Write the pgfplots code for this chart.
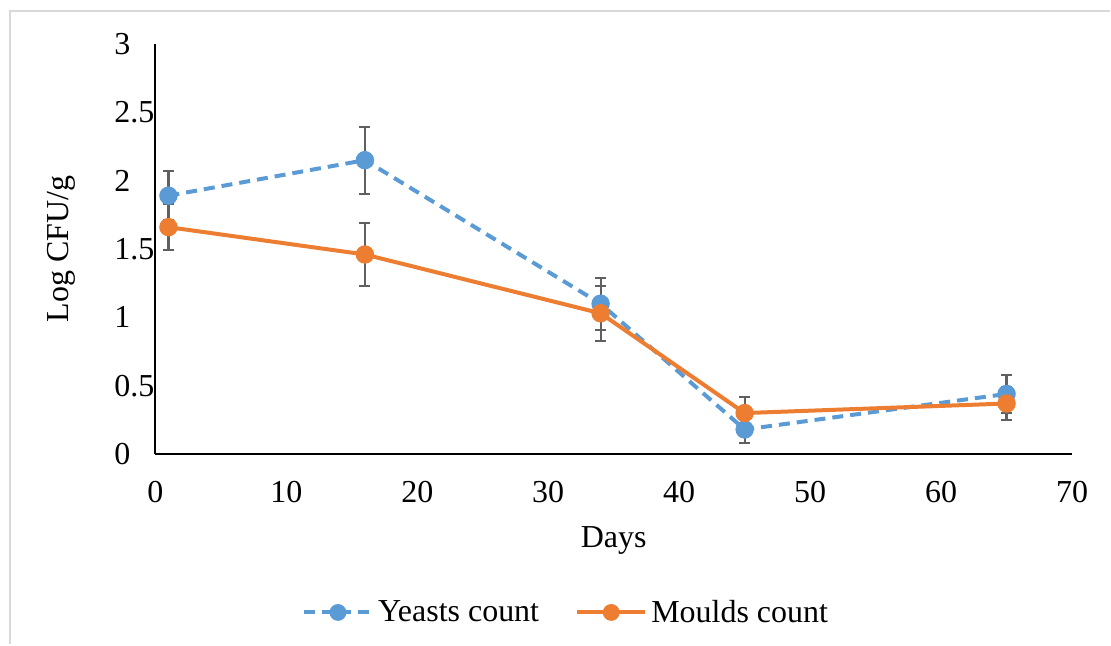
\documentclass[border=0pt]{standalone}
\usepackage{fontspec}
\setmainfont{Liberation Serif}
\usepackage{pgfplots}
\pgfplotsset{compat=1.18}

\definecolor{yeastblue}{HTML}{5B9BD5}
\definecolor{mouldorange}{HTML}{ED7D31}
\definecolor{errgray}{HTML}{606060}
\definecolor{framegray}{HTML}{D9D9D9}

\begin{document}
\begin{tikzpicture}
\begin{axis}[
  scale only axis,
  width=458.75pt, height=205.25pt,
  xmin=0, xmax=70, ymin=0, ymax=3,
  xtick={0,10,...,70}, ytick={0,0.5,...,3},
  axis lines=left, axis line style={-, line width=1pt, black},
  major tick length=0pt,
  font=\fontsize{16}{19}\selectfont,
  /pgf/number format/assume math mode=true,
  yticklabel style={/pgf/number format/fixed, anchor=west, xshift=-24pt},
  xticklabel style={yshift=-10pt},
  xlabel={Days}, ylabel={Log CFU/g},
  xlabel style={at={(rel axis cs:0.5,0)}, anchor=center, yshift=-43pt},
  ylabel style={at={(rel axis cs:0,0.5)}, anchor=center, yshift=47pt},
  clip=false,
  legend columns=2,
  legend style={at={(rel axis cs:0.449,0)}, anchor=center, yshift=-79.25pt,
    draw=none, fill=none, font=\fontsize{16}{19}\selectfont,
    /tikz/every even column/.append style={column sep=16pt}},
  legend image code/.code={\draw[mark repeat=2,mark phase=2, mark size=3.2pt]
    plot coordinates {(0cm,0cm)(0.6cm,0cm)(1.2cm,0cm)};},
  error bars/error bar style={color=errgray, line width=1.1pt, solid},
  error bars/error mark options={rotate=90, mark size=2.8pt, color=errgray, line width=1.1pt},
]
\addplot[color=yeastblue, line width=2pt, dash pattern=on 5.5pt off 3.5pt,
  mark=*, mark size=3.6pt, mark options={solid, fill=yeastblue},
  error bars/.cd, y dir=both, y explicit]
  coordinates {
    (1,1.89) +- (0,0.18)
    (16,2.15) +- (0,0.245)
    (34,1.10) +- (0,0.19)
    (45,0.18) +- (0,0.10)
    (65,0.44) +- (0,0.14)
  };
\addlegendentry{Yeasts count}
\addplot[color=mouldorange, line width=2pt,
  mark=*, mark size=3.6pt, mark options={solid, fill=mouldorange},
  error bars/.cd, y dir=both, y explicit]
  coordinates {
    (1,1.66) +- (0,0.17)
    (16,1.46) +- (0,0.23)
    (34,1.03) +- (0,0.20)
    (45,0.30) +- (0,0.12)
    (65,0.37) +- (0,0.12)
  };
\addlegendentry{Moulds count}
\end{axis}
\draw[framegray, line width=1pt] (-72.75pt,-95.25pt) -- (-72.75pt,221.75pt) -- (477.75pt,221.75pt);
\useasboundingbox (-77.75pt,-95.25pt) rectangle (477.75pt,227.25pt);
\end{tikzpicture}
\end{document}
